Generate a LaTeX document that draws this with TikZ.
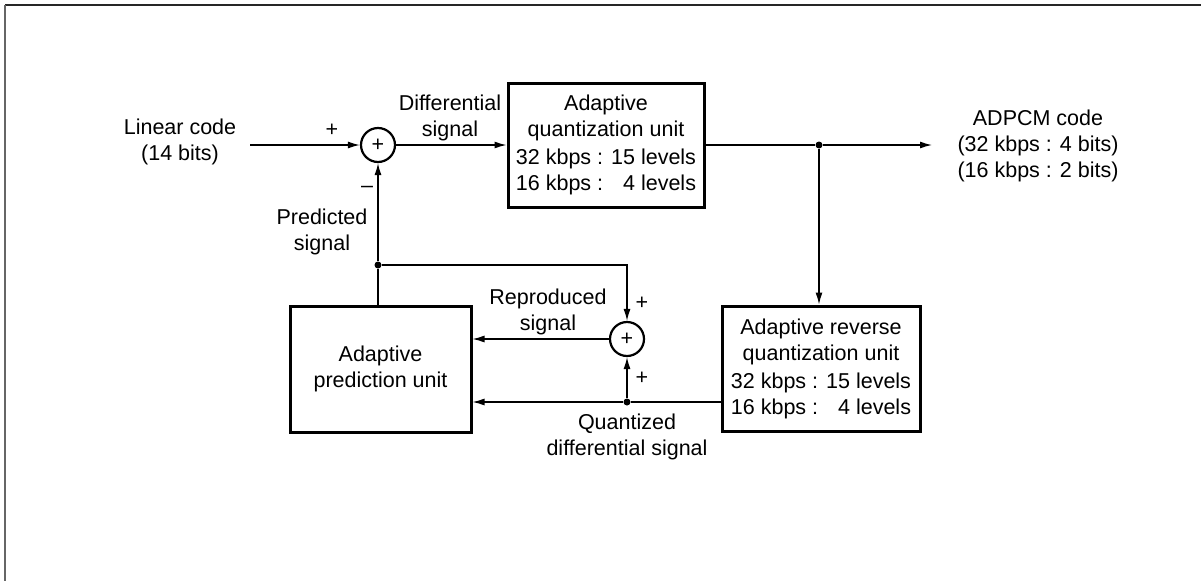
\documentclass[tikz,border=0pt]{standalone}
\usepackage{fontspec}
\setmainfont{Liberation Sans}
\usetikzlibrary{arrows.meta}
\begin{document}
\begin{tikzpicture}[x=1pt,y=-1pt,
  every node/.style={font=\fontsize{21.5}{26}\selectfont},
  unit/.style={draw,line width=3pt,align=center,inner sep=0pt},
  sumnode/.style={circle,draw,line width=2.2pt,minimum size=34pt,inner sep=0pt},
  flow/.style={line width=1.3pt,-{Latex[length=12pt,width=7pt]}},
  wire/.style={line width=1.3pt},
  junction/.style={circle,fill,inner sep=0pt,minimum size=7pt},
  lbl/.style={align=center,inner sep=0pt}
]
\useasboundingbox (0,0) rectangle (1201,581);
% frame
\draw[line width=2pt,black!85] (5,5) -- (1201,5);
\draw[line width=2pt,black!60] (5,5) -- (5,581);

% blocks
\node[sumnode] (s1) at (378,145) {+};
\node[unit,minimum width=196pt,minimum height=124pt] (aq) at (606,145)
  {Adaptive\\quantization unit\\[2pt]32 kbps : 15 levels\\16 kbps : \phantom{1}4 levels};
\node[unit,minimum width=198pt,minimum height=125pt] (rq) at (821,368.5)
  {Adaptive reverse\\quantization unit\\[2pt]32 kbps : 15 levels\\16 kbps : \phantom{1}4 levels};
\node[unit,minimum width=181pt,minimum height=126pt] (ap) at (380.5,369)
  {Adaptive\\prediction unit};
\node[sumnode] (s2) at (627,339) {+};

% branch points and free ends
\coordinate (in) at (250,145);
\coordinate (out) at (932,145);
\node[junction] (j1) at (819,145) {};
\node[junction] (j2) at (378,265) {};
\node[junction] (j3) at (627,402) {};

% connectors
\draw[flow] (in) -- (s1);
\draw[flow] (s1) -- (aq);
\draw[wire] (aq.east) -- (j1);
\draw[flow] (j1) -- (out);
\draw[flow] (j1) -- (j1 |- rq.north);
\draw[wire] (j2 |- ap.north) -- (j2);
\draw[flow] (j2) -- (s1.south);
\draw[flow] (j2) -| (s2.north);
\draw[flow] (s2.west) -- (ap.east |- s2.west);
\draw[wire] (rq.west |- j3) -- (j3);
\draw[flow] (j3) -- (ap.east |- j3);
\draw[flow] (j3) -- (s2.south);

% labels
\node[lbl] (lin) at (180,142) {Linear code\\(14 bits)};
\node (p1) at (332,130) {+};
\node (m1) at (367,189) {\textendash};
\node[lbl] (dif) at (450,118) {Differential\\signal};
\node[lbl] (adp) at (1038,146) {ADPCM code\\(32 kbps : 4 bits)\\(16 kbps : 2 bits)};
\node[lbl] (pred) at (322,232) {Predicted\\signal};
\node[lbl] (rep) at (548,312) {Reproduced\\signal};
\node (p2) at (642,303) {+};
\node (p3) at (642,378) {+};
\node[lbl] (qd) at (627,437) {Quantized\\differential signal};
\end{tikzpicture}
\end{document}
